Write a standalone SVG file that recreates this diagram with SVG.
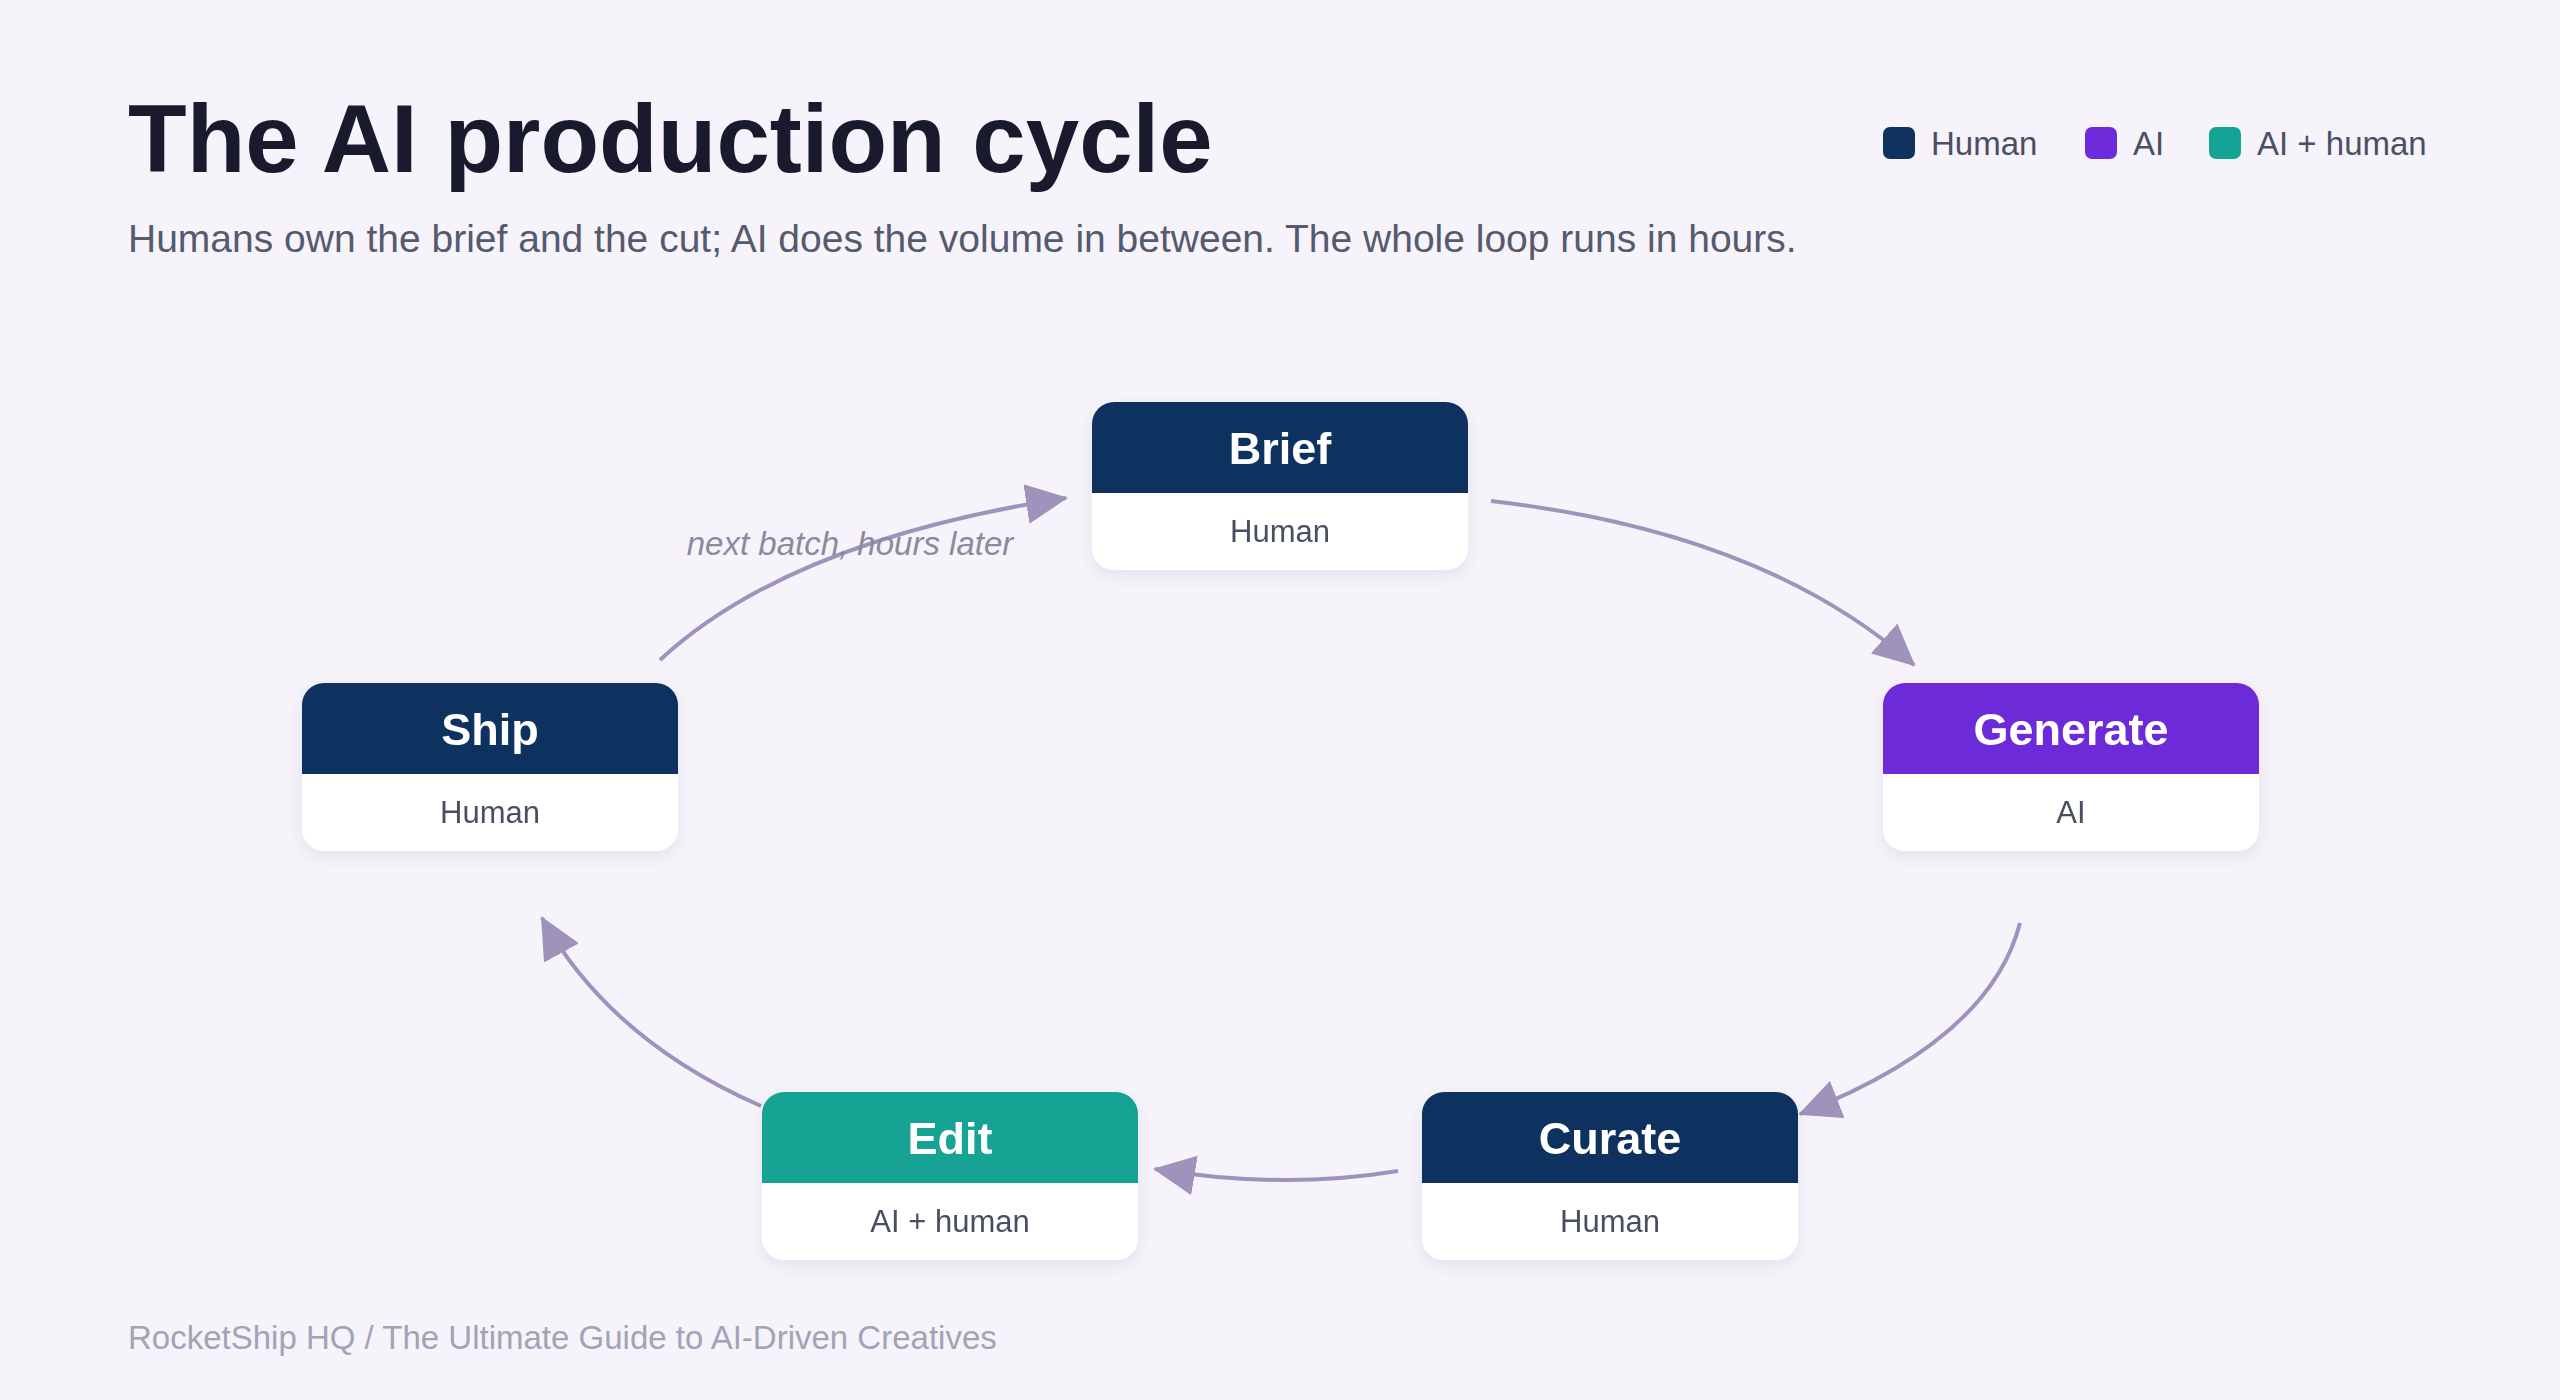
<svg xmlns="http://www.w3.org/2000/svg" width="2560" height="1400" viewBox="0 0 2560 1400">
<defs>
<style>
text{font-family:"Liberation Sans",Arial,sans-serif}
.card{fill:#fff}
.t{font-size:45px;font-weight:bold;fill:#fff;text-anchor:middle}
.s{font-size:31px;fill:#4a4f63;text-anchor:middle}
.c{fill:none;stroke:#9d93bb;stroke-width:4;marker-end:url(#ah)}
.lg{font-size:33px;fill:#4a4f63}
</style>
<marker id="ah" markerUnits="userSpaceOnUse" markerWidth="44" markerHeight="40" refX="40" refY="20" orient="auto"><path d="M0,0 L42,20 L0,40 Z" fill="#9d93bb"/></marker>
<filter id="sh" x="-10%" y="-10%" width="120%" height="130%"><feDropShadow dx="0" dy="6" stdDeviation="8" flood-color="#2a2060" flood-opacity="0.08"/></filter>
<clipPath id="cp"><rect x="0" y="0" width="376" height="168" rx="22"/></clipPath>
</defs>
<rect width="2560" height="1400" fill="#f6f4fa"/>
<text x="128" y="172" font-size="96" font-weight="bold" fill="#1a1a2e">The AI production cycle</text>
<text x="128" y="252" font-size="39" fill="#555a6e">Humans own the brief and the cut; AI does the volume in between. The whole loop runs in hours.</text>
<g id="legend">
<rect x="1883" y="127" width="32" height="32" rx="7" fill="#10325e"/><text class="lg" x="1931" y="155">Human</text>
<rect x="2085" y="127" width="32" height="32" rx="7" fill="#6d2bd9"/><text class="lg" x="2133" y="155">AI</text>
<rect x="2209" y="127" width="32" height="32" rx="7" fill="#14a394"/><text class="lg" x="2257" y="155">AI + human</text>
</g>
<g id="connectors">
<path class="c" d="M1491,501 Q1764,532 1914,665"/>
<path class="c" d="M2020,923 Q1990,1040 1800,1114"/>
<path class="c" d="M1398,1171 Q1282,1190 1155,1169"/>
<path class="c" d="M761,1106 Q610,1040 542,918"/>
<path class="c" d="M660,660 Q790,540 1066,498"/>
<text x="850" y="555" font-size="33" font-style="italic" fill="#8a8aa0" text-anchor="middle">next batch, hours later</text>
</g>
<g id="brief" transform="translate(1092,402)" filter="url(#sh)"><g clip-path="url(#cp)"><rect class="card" width="376" height="168"/><rect width="376" height="91" fill="#10325e"/></g><text class="t" x="188" y="62">Brief</text><text class="s" x="188" y="140">Human</text></g>
<g id="generate" transform="translate(1883,683)" filter="url(#sh)"><g clip-path="url(#cp)"><rect class="card" width="376" height="168"/><rect width="376" height="91" fill="#6d2bd9"/></g><text class="t" x="188" y="62">Generate</text><text class="s" x="188" y="140">AI</text></g>
<g id="curate" transform="translate(1422,1092)" filter="url(#sh)"><g clip-path="url(#cp)"><rect class="card" width="376" height="168"/><rect width="376" height="91" fill="#10325e"/></g><text class="t" x="188" y="62">Curate</text><text class="s" x="188" y="140">Human</text></g>
<g id="edit" transform="translate(762,1092)" filter="url(#sh)"><g clip-path="url(#cp)"><rect class="card" width="376" height="168"/><rect width="376" height="91" fill="#14a394"/></g><text class="t" x="188" y="62">Edit</text><text class="s" x="188" y="140">AI + human</text></g>
<g id="ship" transform="translate(302,683)" filter="url(#sh)"><g clip-path="url(#cp)"><rect class="card" width="376" height="168"/><rect width="376" height="91" fill="#10325e"/></g><text class="t" x="188" y="62">Ship</text><text class="s" x="188" y="140">Human</text></g>
<text x="128" y="1349" font-size="33" fill="#a3a3b8">RocketShip HQ  /  The Ultimate Guide to AI-Driven Creatives</text>
</svg>
